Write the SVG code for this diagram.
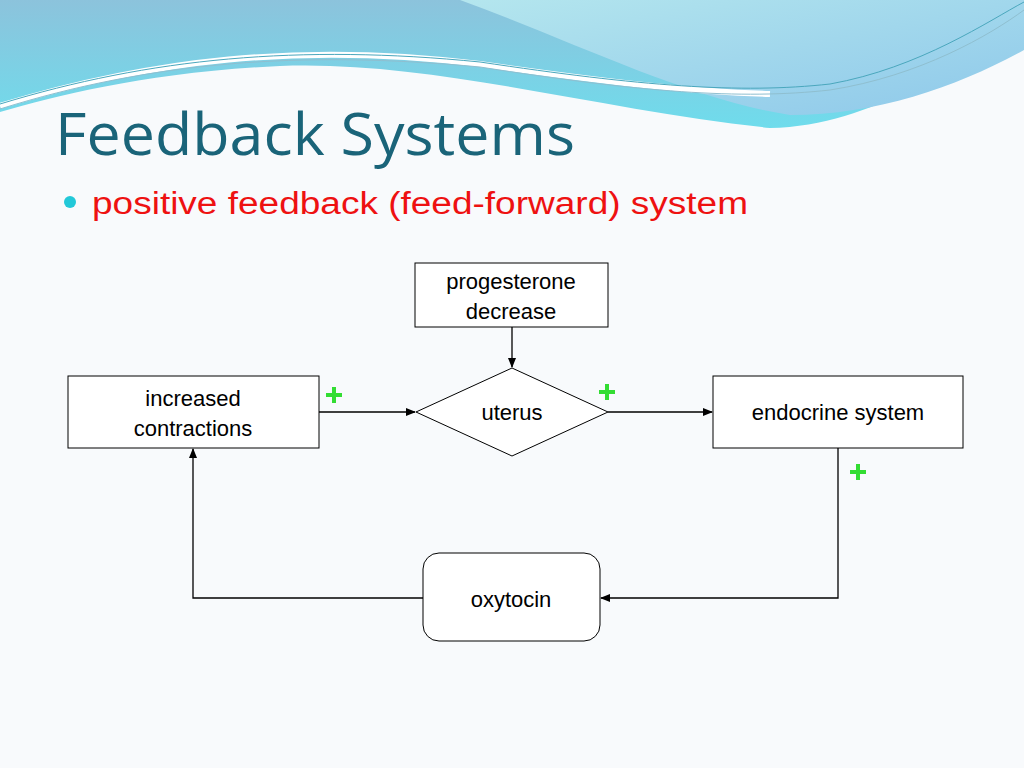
<svg xmlns="http://www.w3.org/2000/svg" width="1024" height="768" viewBox="0 0 1024 768">
<defs>
<linearGradient id="g1" x1="0" y1="0" x2="0" y2="1"><stop offset="0" stop-color="#8cc3dc"/><stop offset="1" stop-color="#6fdcec"/></linearGradient>
<linearGradient id="g2" x1="0" y1="0" x2="1" y2="1"><stop offset="0" stop-color="#b4e6ee"/><stop offset="1" stop-color="#8ec8ea"/></linearGradient>
<marker id="ar" markerWidth="10" markerHeight="8" refX="9" refY="4" orient="auto" markerUnits="userSpaceOnUse"><path d="M0,0 L10,4 L0,8 Z" fill="#000"/></marker>
<style>
.box{fill:#fff;stroke:#000;stroke-width:1}
.t{font-family:"Liberation Sans",Arial,sans-serif;font-size:22px;fill:#000;text-anchor:middle}
.c{fill:none;stroke:#000;stroke-width:1.3}
.p{stroke:#33dd33;stroke-width:4}
</style>
</defs>
<rect width="1024" height="768" fill="#f8fafc"/>
<path d="M0,0 H1024 V5 C960,60 880,125 770,128 C600,110 430,60 280,66 C150,72 60,95 0,112 Z" fill="url(#g1)"/>
<path d="M460,0 H1024 V50 C960,85 880,115 790,115 C690,100 570,40 460,0 Z" fill="url(#g2)"/>
<path d="M0,106 C150,60 300,42 480,64 C620,84 700,92 770,94" fill="none" stroke="#fff" stroke-width="6"/>
<path d="M0,104 C150,58 300,44 480,62 C640,86 740,94 830,84 C920,68 990,20 1024,2" fill="none" stroke="#4aa7bd" stroke-width="1"/>
<path d="M0,109 C150,62 300,50 480,67 C640,92 740,100 830,90 C920,76 990,35 1024,10" fill="none" stroke="#8fbfd0" stroke-width="1"/>
<text x="55" y="155" font-family="'Open Sans','Liberation Sans',sans-serif" font-size="58" fill="#1a6479" textLength="520" lengthAdjust="spacingAndGlyphs">Feedback Systems</text>
<circle cx="70" cy="202" r="6" fill="#22c8d8"/>
<text x="92" y="214" font-family="'Liberation Sans',Arial,sans-serif" font-size="31" fill="#ee1111" textLength="656" lengthAdjust="spacingAndGlyphs">positive feedback (feed-forward) system</text>
<g id="connectors">
<path class="c" d="M512,327 V367" marker-end="url(#ar)"/>
<path class="c" d="M319,412 H415" marker-end="url(#ar)"/>
<path class="c" d="M608,412 H712" marker-end="url(#ar)"/>
<path class="c" d="M838,448 V598 H601" marker-end="url(#ar)"/>
<path class="c" d="M423,598 H193 V449" marker-end="url(#ar)"/>
</g>
<g id="progesterone"><rect class="box" x="415" y="263" width="193" height="64"/><text class="t" x="511" y="289">progesterone</text><text class="t" x="511" y="319">decrease</text></g>
<g id="contractions"><rect class="box" x="68" y="376" width="251" height="72"/><text class="t" x="193" y="406">increased</text><text class="t" x="193" y="436">contractions</text></g>
<g id="uterus"><path class="box" d="M416,412 L512,368 L608,412 L512,456 Z"/><text class="t" x="512" y="420">uterus</text></g>
<g id="endocrine"><rect class="box" x="713" y="376" width="250" height="72"/><text class="t" x="838" y="420">endocrine system</text></g>
<g id="oxytocin"><rect class="box" x="423" y="553" width="177" height="88" rx="16"/><text class="t" x="511" y="607">oxytocin</text></g>
<g id="plus">
<path class="p" d="M326,395 H342 M334,387 V403"/>
<path class="p" d="M599,392 H615 M607,384 V400"/>
<path class="p" d="M850,472 H866 M858,464 V480"/>
</g>
</svg>
